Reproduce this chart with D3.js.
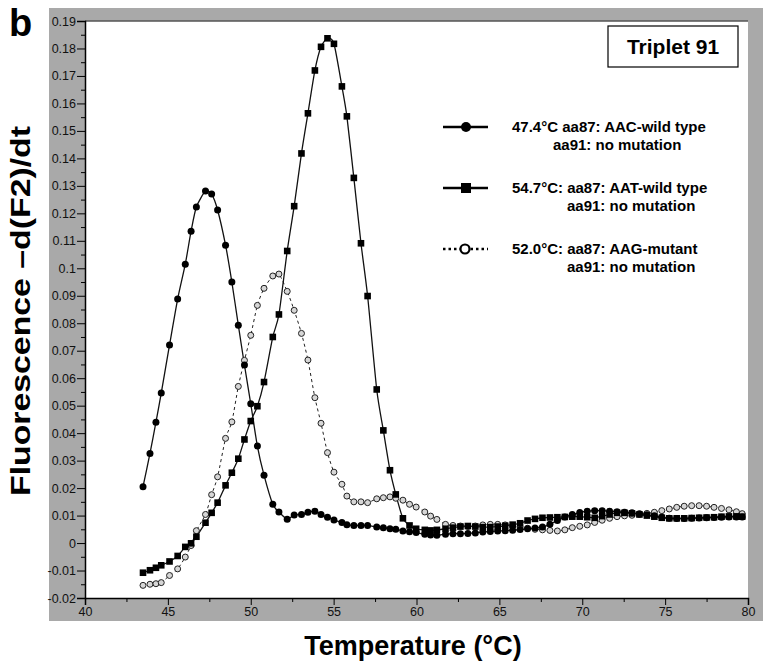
<!DOCTYPE html>
<html><head><meta charset="utf-8">
<script src="https://cdn.jsdelivr.net/npm/d3@7"></script>
<style>
body{margin:0;background:#fff;}
svg{display:block;}
</style>
</head><body>
<svg id="chart" width="769" height="665"></svg>
<script>
// ---- data ----
const temps = [43.5,43.92,44.28,44.6,45.1,45.59,46.05,46.4,46.72,47.27,47.64,48.0,48.48,48.86,49.25,49.62,50.0,50.4,50.8,51.33,51.7,52.2,52.62,53.06,53.45,53.87,54.24,54.63,55.02,55.5,55.8,56.22,56.65,57.05,57.6,58.0,58.4,58.75,59.18,59.58,59.98,60.5,60.85,61.23,61.75,
62.2,62.65,63.1,63.55,64.0,64.45,64.9,65.35,65.8,66.25,66.7,67.15,67.6,68.05,68.5,68.95,69.4,69.85,70.3,70.75,71.2,71.65,72.1,72.55,73.0,73.45,73.9,74.35,74.8,75.25,75.7,76.15,76.6,77.05,77.5,77.95,78.4,78.85,79.3,79.65];

const aacWild = [0.0205,0.0326,0.044,0.0546,0.0721,0.0888,0.1015,0.1135,0.1223,0.1281,0.1270,0.1212,0.1084,0.0950,0.0793,0.0648,0.0507,0.0353,0.0247,0.0141,0.0113,0.0087,0.0102,0.0104,0.0112,0.0116,0.0104,0.0094,0.0084,0.0075,0.0067,0.0064,0.0064,0.0064,0.0058,0.0056,0.0052,0.0050,0.0044,0.0041,0.0038,0.0032,0.0029,0.0028,0.0032,
0.0034,0.0034,0.0035,0.0037,0.0040,0.0042,0.0044,0.0045,0.0047,0.0049,0.0052,0.0055,0.0058,0.0068,0.0082,0.0095,0.0104,0.0111,0.0116,0.0118,0.0118,0.0116,0.0114,0.0112,0.0110,0.0107,0.0103,0.0099,0.0094,0.0090,0.0089,0.0089,0.0090,0.0091,0.0092,0.0093,0.0094,0.0095,0.0095,0.0095];

const aatWild = [-0.0108,-0.0099,-0.0090,-0.0081,-0.0067,-0.0047,-0.0014,-0.0001,0.0023,0.0074,0.0110,0.0147,0.0210,0.0256,0.0307,0.0377,0.0444,0.0498,0.0586,0.0750,0.0832,0.1063,0.1226,0.1418,0.1564,0.1720,0.1806,0.1837,0.1817,0.1662,0.1553,0.1329,0.1091,0.0899,0.0559,0.0410,0.0265,0.0177,0.0090,0.0064,0.0052,0.0048,0.0046,0.0048,0.0052,
0.0056,0.0060,0.0062,0.0060,0.0058,0.0058,0.0060,0.0063,0.0067,0.0072,0.0082,0.0088,0.0092,0.0093,0.0094,0.0095,0.0096,0.0096,0.0094,0.0092,0.0098,0.0104,0.0110,0.0110,0.0108,0.0104,0.0100,0.0096,0.0092,0.0090,0.0090,0.0090,0.0091,0.0092,0.0093,0.0094,0.0096,0.0097,0.0097,0.0096];

const aagMutant = [-0.0154,-0.0150,-0.0148,-0.0144,-0.0118,-0.0094,-0.0051,-0.0009,0.0045,0.0104,0.0176,0.0241,0.0381,0.0441,0.0570,0.0665,0.0756,0.0865,0.0927,0.0972,0.0979,0.0916,0.0847,0.0763,0.0666,0.0529,0.0436,0.0329,0.0258,0.0214,0.0171,0.0150,0.0150,0.0147,0.0161,0.0165,0.0168,0.0163,0.0156,0.0141,0.0131,0.0113,0.0098,0.0086,0.0068,
0.0064,0.0062,0.0060,0.0062,0.0066,0.0068,0.0068,0.0066,0.0062,0.0058,0.0054,0.0050,0.0048,0.0046,0.0044,0.0048,0.0056,0.0061,0.0066,0.0075,0.0083,0.0090,0.0096,0.0099,0.0101,0.0104,0.0108,0.0112,0.0118,0.0124,0.0130,0.0134,0.0136,0.0136,0.0134,0.0130,0.0126,0.0121,0.0114,0.0107];

const xTicks = [40,45,50,55,60,65,70,75,80];
const xMinorTicks = [42.5,47.5,52.5,57.5,62.5,67.5,72.5,77.5];
const yTicks = [-0.02,-0.01,0,0.01,0.02,0.03,0.04,0.05,0.06,0.07,0.08,0.09,0.1,0.11,0.12,0.13,0.14,0.15,0.16,0.17,0.18,0.19];
const yTickLabels = ["-0.02","-0.01","0","0.01","0.02","0.03","0.04","0.05","0.06","0.07","0.08","0.09","0.1","0.11","0.12","0.13","0.14","0.15","0.16","0.17","0.18","0.19"];
const yMinorTicks = [-0.015,-0.005,0.005,0.015,0.025,0.035,0.045,0.055,0.065,0.075,0.085,0.095,0.105,0.115,0.125,0.135,0.145,0.155,0.165,0.175,0.185];

const legendLines1 = ["47.4°C aa87: AAC-wild type","54.7°C: aa87: AAT-wild type","52.0°C: aa87: AAG-mutant"];
const legendLines2 = ["aa91: no mutation","aa91: no mutation","aa91: no mutation"];

// ---- drawing ----
const svg = d3.select("#chart");
const W = 769, H = 665;
const x = d3.scaleLinear().domain([40,80]).range([85,748]);
const y = d3.scaleLinear().domain([-0.02,0.19]).range([598,21]);

const bold = "'Liberation Sans', Arial, sans-serif";
const narrow = "'Liberation Sans Narrow','Arial Narrow','Liberation Sans',Arial,sans-serif";

svg.append("rect").attr("width",W).attr("height",H).attr("fill","#fff");
// gray frame
svg.append("rect").attr("x",49).attr("y",8).attr("width",714).attr("height",613).attr("fill","#a9a9a9");
// plot area
svg.append("rect").attr("x",x(40)).attr("y",y(0.19)).attr("width",x(80)-x(40)).attr("height",y(-0.02)-y(0.19)).attr("fill","#fff");
svg.append("line").attr("x1",x(40)).attr("x2",x(80)).attr("y1",y(0.19)).attr("y2",y(0.19)).attr("stroke","#555").attr("stroke-width",1.5);

// axes
const yAxis = d3.axisLeft(y).tickValues(yTicks).tickSize(8).tickFormat((d,i)=>yTickLabels[i]);
const gy = svg.append("g").attr("transform",`translate(${x(40)},0)`).call(yAxis);
gy.select(".domain").attr("stroke","#000").attr("stroke-width",1.5);
gy.selectAll(".tick line").attr("stroke","#000");
gy.selectAll(".tick text").attr("font-family",narrow).attr("font-size",12.5).attr("fill","#111").attr("x",-9);
const gym = svg.append("g").attr("transform",`translate(${x(40)},0)`).call(d3.axisLeft(y).tickValues(yMinorTicks).tickSize(4).tickFormat(""));
gym.select(".domain").remove();
gym.selectAll(".tick line").attr("stroke","#000");

const xAxis = d3.axisBottom(x).tickValues(xTicks).tickSize(7).tickFormat(d3.format("d"));
const gx = svg.append("g").attr("transform",`translate(0,${y(-0.02)})`).call(xAxis);
gx.select(".domain").attr("stroke","#000").attr("stroke-width",1.5);
gx.selectAll(".tick line").attr("stroke","#000");
gx.selectAll(".tick text").attr("font-family",narrow).attr("font-size",12.5).attr("fill","#111").attr("y",9);
const gxm = svg.append("g").attr("transform",`translate(0,${y(-0.02)})`).call(d3.axisBottom(x).tickValues(xMinorTicks).tickSize(4).tickFormat(""));
gxm.select(".domain").remove();
gxm.selectAll(".tick line").attr("stroke","#000");

// series
const line = d3.line().x(d=>x(d[0])).y(d=>y(d[1])).curve(d3.curveCardinal.tension(0.3));
const s1 = temps.map((t,i)=>[t,aacWild[i]]);
const s2 = temps.map((t,i)=>[t,aatWild[i]]);
const s3 = temps.map((t,i)=>[t,aagMutant[i]]);

svg.append("path").datum(s3).attr("d",line).attr("fill","none").attr("stroke","#222").attr("stroke-width",1).attr("stroke-dasharray","3,3");
svg.append("path").datum(s1).attr("d",line).attr("fill","none").attr("stroke","#111").attr("stroke-width",1.3);
svg.append("path").datum(s2).attr("d",line).attr("fill","none").attr("stroke","#111").attr("stroke-width",1.3);

svg.append("g").selectAll("circle").data(s3).join("circle")
  .attr("cx",d=>x(d[0])).attr("cy",d=>y(d[1])).attr("r",3).attr("fill","#d6d6d6").attr("stroke","#222").attr("stroke-width",1);
svg.append("g").selectAll("circle").data(s1).join("circle")
  .attr("cx",d=>x(d[0])).attr("cy",d=>y(d[1])).attr("r",3.5).attr("fill","#000");
svg.append("g").selectAll("rect").data(s2).join("rect")
  .attr("x",d=>x(d[0])-3.3).attr("y",d=>y(d[1])-3.3).attr("width",6.6).attr("height",6.6).attr("fill","#000");

// title box
svg.append("rect").attr("x",608).attr("y",26).attr("width",130).attr("height",41).attr("fill","#fff").attr("stroke","#000").attr("stroke-width",1.2);
svg.append("text").attr("x",673).attr("y",54).attr("text-anchor","middle").attr("font-family",bold).attr("font-weight","bold").attr("font-size",21).text("Triplet 91");

// legend
const legY = [127,188,249];
const leg2X = [553,567,567];
legY.forEach((ly,i)=>{
  const g = svg.append("g");
  if(i<2){
    g.append("line").attr("x1",443).attr("x2",488).attr("y1",ly).attr("y2",ly).attr("stroke","#000").attr("stroke-width",2.5);
  } else {
    g.append("line").attr("x1",443).attr("x2",488).attr("y1",ly).attr("y2",ly).attr("stroke","#000").attr("stroke-width",2.5).attr("stroke-dasharray","2.5,3");
  }
  if(i===0) g.append("circle").attr("cx",466).attr("cy",ly).attr("r",5).attr("fill","#000");
  if(i===1) g.append("rect").attr("x",461).attr("y",ly-5).attr("width",10).attr("height",10).attr("fill","#000");
  if(i===2) g.append("circle").attr("cx",465).attr("cy",ly).attr("r",4.5).attr("fill","#fff").attr("stroke","#000").attr("stroke-width",2.2);
  g.append("text").attr("x",512).attr("y",ly+5).attr("font-family",bold).attr("font-weight","bold").attr("font-size",15).text(legendLines1[i]);
  g.append("text").attr("x",leg2X[i]).attr("y",ly+23).attr("font-family",bold).attr("font-weight","bold").attr("font-size",15).text(legendLines2[i]);
});

// axis titles
svg.append("text").attr("transform","translate(30,311) rotate(-90)").attr("text-anchor","middle")
  .attr("font-family",bold).attr("font-weight","bold").attr("font-size",28)
  .attr("textLength",370).attr("lengthAdjust","spacingAndGlyphs").text("Fluorescence –d(F2)/dt");
svg.append("text").attr("x",413).attr("y",655).attr("text-anchor","middle")
  .attr("font-family",bold).attr("font-weight","bold").attr("font-size",27).text("Temperature (°C)");
svg.append("text").attr("x",9).attr("y",36).attr("font-family",bold).attr("font-weight","bold").attr("font-size",38).text("b");
</script>
</body></html>
